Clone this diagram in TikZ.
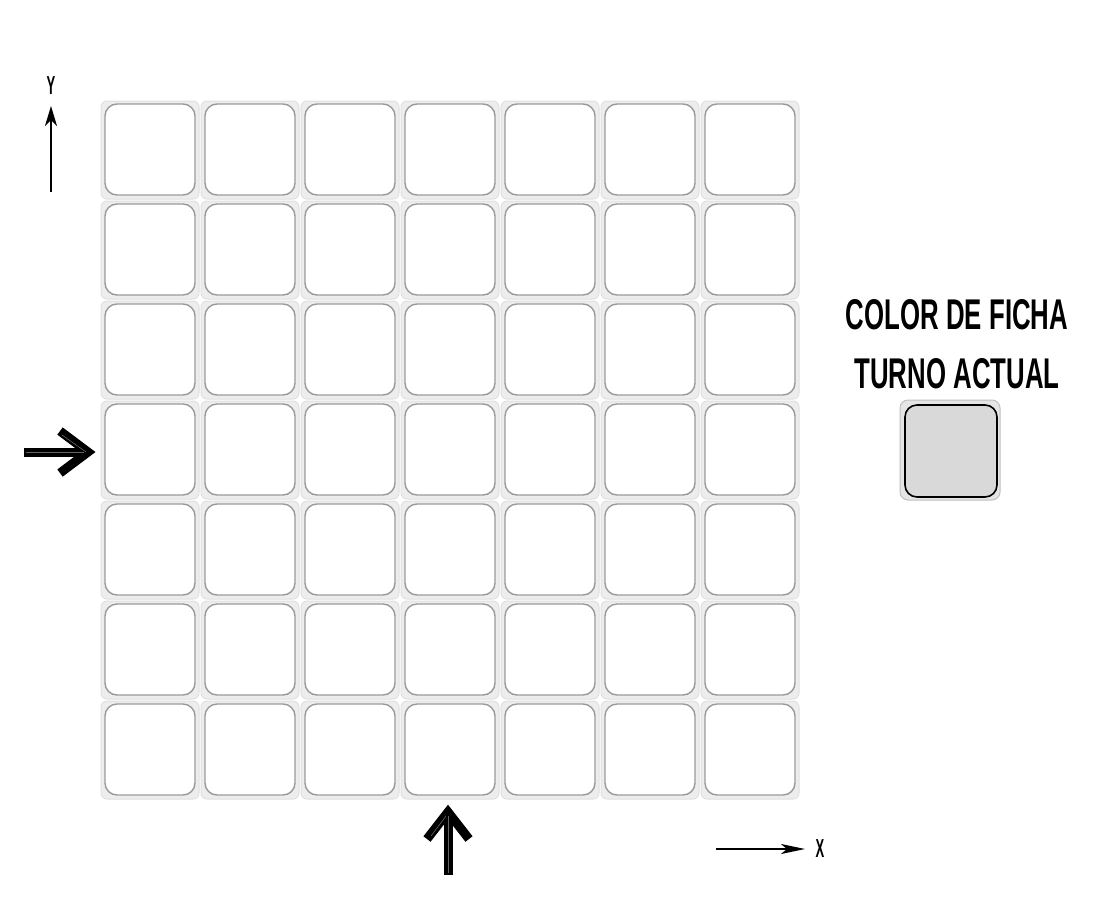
\documentclass[tikz,border=0pt]{standalone}
\usepackage{fontspec}
\setmainfont{Liberation Sans}
\usetikzlibrary{arrows.meta}
\definecolor{tileouter}{HTML}{EDEDED}
\definecolor{tileedge}{HTML}{9A9A9A}
\definecolor{tokenfill}{HTML}{D9D9D9}
\tikzset{
  tilebg/.style={fill=tileouter, draw=white!88!black, line width=1pt, rounded corners=6pt},
  tilein/.style={fill=white, draw=tileedge, line width=1.4pt, rounded corners=12pt},
  bigarrow/.style={line width=9pt, black},
  shine/.style={line width=0.6pt, white!40!black},
  lbl/.style={font=\bfseries\fontsize{43}{46}\selectfont, xscale=0.6, inner sep=0pt},
  axlbl/.style={font=\bfseries\fontsize{26}{28}\selectfont, xscale=0.5, inner sep=0pt}
}
\begin{document}
\begin{tikzpicture}[x=1pt,y=-1pt]
\useasboundingbox (0,0) rectangle (1100,900);
% board
\foreach \i in {0,...,6}{
  \foreach \j in {0,...,6}{
    \path[tilebg] ({101+100*\i},{101+100*\j}) rectangle ({199+100*\i},{199+100*\j});
    \path[tilein] ({105+100*\i},{104+100*\j}) rectangle ({195+100*\i},{195+100*\j});
  }
}
% token
\node[draw=white!75!black, fill=white!90!black, rounded corners=8pt, minimum width=100pt, minimum height=100pt, line width=1pt] (tok) at (950,450) {};
\node[draw=black, fill=tokenfill, rounded corners=12pt, minimum width=92pt, minimum height=92pt, line width=1.6pt] (tokin) at (951,451) {};
% labels
\node[lbl] (t1) at (957,315) {COLOR DE FICHA};
\node[lbl] (t2) at (957,374) {TURNO ACTUAL};
% left arrow
\coordinate (la0) at (24,452);
\coordinate (la1) at (88,452);
\draw[bigarrow] (la0) -- (84,452);
\draw[bigarrow, line join=miter] (60,431) -- (la1) -- (60,473);
\draw[shine] (26,452) -- (84,452);
\draw[shine] (62,435) -- (86,452);
% bottom arrow
\coordinate (ba0) at (448,875);
\coordinate (ba1) at (448,812);
\draw[bigarrow] (ba0) -- (448,816);
\draw[bigarrow, line join=miter] (427,839) -- (ba1) -- (469,839);
\draw[shine] (448,873) -- (448,816);
\draw[shine] (431,836) -- (446,816);
% axes
\coordinate (y0) at (51,192);
\coordinate (y1) at (51,106);
\draw[line width=2.2pt, -{Stealth[length=20pt,width=12pt,inset=6pt]}] (y0) -- (y1);
\node[axlbl] (ylab) at (51,86) {Y};
\coordinate (x0) at (716,849);
\coordinate (x1) at (805,849);
\draw[line width=2.2pt, -{Stealth[length=24pt,width=10pt,inset=6pt]}] (x0) -- (x1);
\node[axlbl] (xlab) at (820,849) {X};
\end{tikzpicture}
\end{document}
